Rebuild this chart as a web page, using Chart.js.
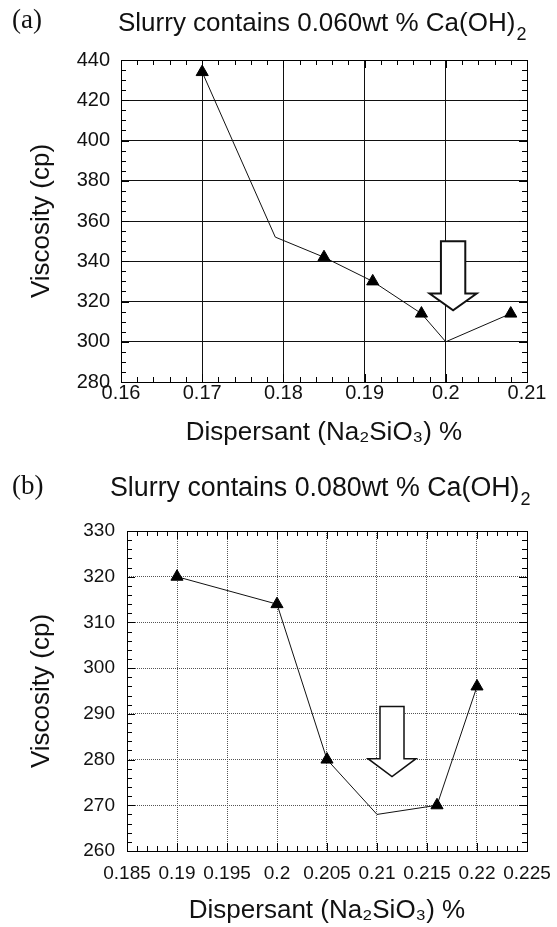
<!DOCTYPE html>
<html>
<head>
<meta charset="utf-8">
<script src="https://cdn.jsdelivr.net/npm/chart.js@4.4.1/dist/chart.umd.min.js"></script>
<style>
  html, body { margin: 0; padding: 0; background: #fff; }
  #page { position: relative; width: 557px; height: 927px; overflow: hidden; background: #fff; }
  canvas { position: absolute; left: 0; }
  #chartA { top: 0; }
  #chartB { top: 460px; }
  .panel { position: absolute; left: 12px; font-family: 'Liberation Serif', 'Times New Roman', serif; font-size: 27px; line-height: 1; color: #111; }
  .title { position: absolute; font-family: 'Liberation Sans', Arial, Helvetica, sans-serif; font-size: 26px; line-height: 1; color: #111; white-space: nowrap; }
  .title .sub { font-size: 18px; position: relative; top: 9px; margin-left: 1px; }
</style>
</head>
<body>
<div id="page">
  <canvas id="chartA" width="557" height="460"></canvas>
  <canvas id="chartB" width="557" height="467"></canvas>
  <div class="panel" style="top:6px">(a)</div>
  <div class="title" id="titleA" style="left:118px; top:9px"></div>
  <div class="panel" style="top:472px">(b)</div>
  <div class="title" id="titleB" style="left:110px; top:474px; font-size:26.8px"></div>
</div>
<script>
// (a) 0.060 wt % Ca(OH)2
const doseA = [0.17, 0.179, 0.185, 0.191, 0.197, 0.2, 0.208];
const viscA = [434, 352, 342, 330, 314, 300, 314];
const markA = [1, 0, 1, 1, 1, 0, 1]; // 1 = measured point (triangle)
const xTicksA = [0.16, 0.17, 0.18, 0.19, 0.2, 0.21];
const xLabelsA = ['0.16', '0.17', '0.18', '0.19', '0.2', '0.21'];
const yTicksA = [280, 300, 320, 340, 360, 380, 400, 420, 440];

// (b) 0.080 wt % Ca(OH)2
const doseB = [0.19, 0.2, 0.205, 0.21, 0.216, 0.22];
const viscB = [320, 314, 280, 268, 270, 296];
const markB = [1, 1, 1, 0, 1, 1];
const xTicksB = [0.185, 0.19, 0.195, 0.2, 0.205, 0.21, 0.215, 0.22, 0.225];
const xLabelsB = ['0.185', '0.19', '0.195', '0.2', '0.205', '0.21', '0.215', '0.22', '0.225'];
const yTicksB = [260, 270, 280, 290, 300, 310, 320, 330];

// titles, with a real subscript
document.getElementById('titleA').innerHTML = 'Slurry contains 0.060wt % Ca(OH)<span class="sub">2</span>';
document.getElementById('titleB').innerHTML = 'Slurry contains 0.080wt % Ca(OH)<span class="sub">2</span>';

const SANS = "'Liberation Sans', Arial, Helvetica, sans-serif";
Chart.defaults.color = '#111';

// frame, inward ticks and the hollow arrow, all through the scales
const framePlugin = {
  id: 'frame',
  afterDatasetsDraw(chart, args, opts) {
    const { ctx, chartArea: a, scales: { x, y } } = chart;
    ctx.save();

    // arrow (data units)
    const ar = opts.arrow;
    const px = v => x.getPixelForValue(v);
    const py = v => y.getPixelForValue(v);
    ctx.beginPath();
    ctx.moveTo(px(ar.x - ar.shaft), py(ar.top));
    ctx.lineTo(px(ar.x + ar.shaft), py(ar.top));
    ctx.lineTo(px(ar.x + ar.shaft), py(ar.neck));
    ctx.lineTo(px(ar.x + ar.head), py(ar.neck));
    ctx.lineTo(px(ar.x), py(ar.tip));
    ctx.lineTo(px(ar.x - ar.head), py(ar.neck));
    ctx.lineTo(px(ar.x - ar.shaft), py(ar.neck));
    ctx.closePath();
    ctx.fillStyle = '#fff';
    ctx.fill();
    ctx.strokeStyle = '#111';
    ctx.lineWidth = ar.width;
    ctx.lineJoin = 'miter';
    ctx.stroke();

    // ticks pointing inward on all four sides
    ctx.strokeStyle = '#000';
    ctx.lineWidth = 1;
    ctx.beginPath();
    const doAxis = (scale, cfg, horiz) => {
      const n = Math.round((scale.max - scale.min) / cfg.minor);
      for (let i = 0; i <= n; i++) {
        const v = scale.min + i * cfg.minor;
        const len = i % cfg.per === 0 ? 8 : 5;
        const p = Math.round(scale.getPixelForValue(v)) + 0.5;
        if (horiz) {
          ctx.moveTo(p, a.bottom); ctx.lineTo(p, a.bottom - len);
          ctx.moveTo(p, a.top); ctx.lineTo(p, a.top + len);
        } else {
          ctx.moveTo(a.left, p); ctx.lineTo(a.left + len, p);
          ctx.moveTo(a.right, p); ctx.lineTo(a.right - len, p);
        }
      }
    };
    doAxis(x, opts.xMinor, true);
    doAxis(y, opts.yMinor, false);
    ctx.stroke();

    ctx.strokeRect(Math.round(a.left) + 0.5, Math.round(a.top) + 0.5,
      Math.round(a.right - a.left), Math.round(a.bottom - a.top));
    ctx.restore();
  }
};

function makeChart(id, p) {
  const pts = p.dose.map((d, i) => ({ x: d, y: p.visc[i] }));
  return new Chart(document.getElementById(id), {
    type: 'scatter',
    data: {
      datasets: [{
        data: pts,
        showLine: true,
        borderColor: '#111',
        borderWidth: 1,
        tension: 0,
        pointStyle: 'triangle',
        pointRadius: ctx => p.mark[ctx.dataIndex] ? 7 : 0,
        pointBackgroundColor: '#000',
        pointBorderColor: '#000',
        pointBorderWidth: 1
      }]
    },
    options: {
      responsive: false,
      animation: false,
      devicePixelRatio: 1,
      layout: { padding: { left: 0, right: 30, top: p.topH, bottom: 0 } },
      plugins: {
        legend: { display: false },
        tooltip: { enabled: false },
        title: { display: false },
        frame: { arrow: p.arrow, xMinor: p.xMinor, yMinor: p.yMinor }
      },
      scales: {
        x: {
          type: 'linear',
          min: p.xTicks[0],
          max: p.xTicks[p.xTicks.length - 1],
          afterBuildTicks: s => { s.ticks = p.xTicks.map(v => ({ value: v })); },
          afterFit: s => { s.height = p.bottomH; },
          ticks: {
            callback: (v, i) => p.xLabels[i],
            autoSkip: false,
            maxRotation: 0,
            padding: p.xTickPad,
            color: '#111',
            font: { family: SANS, size: p.tickSize }
          },
          grid: {
            color: p.gridColor, lineWidth: 1,
            drawTicks: p.xTickGap > 0, tickLength: p.xTickGap, tickColor: 'rgba(0,0,0,0)'
          },
          border: { display: false, dash: p.gridDash },
          title: {
            display: true,
            text: 'Dispersant (Na₂SiO₃) %',
            color: '#111',
            font: { family: SANS, size: 26 },
            padding: { top: 0, bottom: p.xTitlePad }
          }
        },
        y: {
          type: 'linear',
          min: p.yTicks[0],
          max: p.yTicks[p.yTicks.length - 1],
          afterBuildTicks: s => { s.ticks = p.yTicks.map(v => ({ value: v })); },
          afterFit: s => { s.width = p.leftW; },
          ticks: {
            callback: v => String(v),
            padding: p.yTickPad,
            color: '#111',
            font: { family: SANS, size: p.tickSize }
          },
          grid: { color: p.gridColor, lineWidth: 1, drawTicks: false },
          border: { display: false, dash: p.gridDash },
          title: {
            display: true,
            text: 'Viscosity (cp)',
            color: '#111',
            font: { family: SANS, size: 26 },
            padding: { top: 26, bottom: 0 }
          }
        }
      }
    },
    plugins: [framePlugin]
  });
}

makeChart('chartA', {
  dose: doseA, visc: viscA, mark: markA,
  xTicks: xTicksA, xLabels: xLabelsA, yTicks: yTicksA,
  topH: 60, leftW: 121, bottomH: 78, xTickPad: -1, xTickGap: 0, xTitlePad: 12, yTickPad: 11, tickSize: 20,
  gridColor: '#111', gridDash: [],
  xMinor: { minor: 0.002, per: 5 }, yMinor: { minor: 5, per: 4 },
  arrow: { x: 0.2009, shaft: 0.0015, head: 0.0029, top: 350, neck: 324, tip: 315.6, width: 2 }
});

makeChart('chartB', {
  dose: doseB, visc: viscB, mark: markB,
  xTicks: xTicksB, xLabels: xLabelsB, yTicks: yTicksB,
  topH: 71, leftW: 127, bottomH: 76, xTickPad: 1, xTickGap: 10, xTitlePad: 1, yTickPad: 12, tickSize: 19,
  gridColor: '#555', gridDash: [1, 1],
  xMinor: { minor: 0.001, per: 5 }, yMinor: { minor: 2, per: 5 },
  arrow: { x: 0.2115, shaft: 0.0012, head: 0.0024, top: 291.6, neck: 280.2, tip: 276.3, width: 1.5 }
});
</script>
</body>
</html>
